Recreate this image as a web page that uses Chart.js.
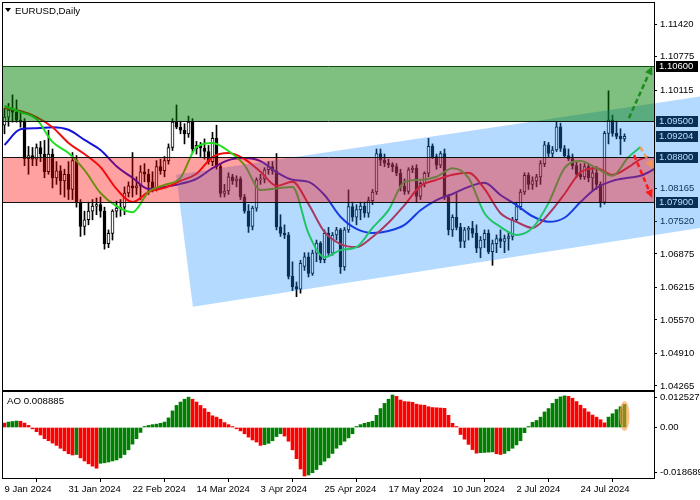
<!DOCTYPE html>
<html>
<head>
<meta charset="utf-8">
<title>EURUSD Daily</title>
<script src="https://cdn.jsdelivr.net/npm/chart.js@4.4.1/dist/chart.umd.min.js"></script>
<style>
  html, body { margin: 0; padding: 0; background: #fff; }
  #wrap { position: relative; width: 700px; height: 500px; overflow: hidden; }
  #priceChart { position: absolute; left: 0; top: 0; }
  #aoChart { position: absolute; left: 0; top: 391px; }
</style>
</head>
<body>
<div id="wrap">
  <canvas id="priceChart" width="700" height="391"></canvas>
  <canvas id="aoChart" width="700" height="109"></canvas>
</div>
<script>
// Datos del gráfico (velas diarias EURUSD)
const dateLabels = ["9 Jan 2024", "31 Jan 2024", "22 Feb 2024", "14 Mar 2024", "3 Apr 2024",
    "25 Apr 2024", "17 May 2024", "10 Jun 2024", "2 Jul 2024", "24 Jul 2024"];
const labelBars = [0, 16, 32, 48, 64, 80, 96, 112, 128, 144];

const openPrices = [
    1.0942,1.0958,1.0972,1.0968,1.0952,1.0948,1.0876,1.0882,1.0875,1.0898,
    1.0885,1.0850,1.0885,1.0838,1.0852,1.0832,1.0845,1.0815,1.0872,1.0790,
    1.0742,1.0755,1.0772,1.0782,1.0785,1.0772,1.0708,1.0728,1.0772,1.0778,
    1.0780,1.0808,1.0822,1.0818,1.0822,1.0850,1.0845,1.0830,1.0817,1.0860,
    1.0852,1.0872,1.0898,1.0948,1.0938,1.0932,1.0925,1.0948,1.0895,1.0902,
    1.0897,1.0890,1.0870,1.0916,1.0860,1.0807,1.0812,1.0840,1.0832,1.0836,
    1.0800,1.0772,1.0742,1.0778,1.0834,1.0836,1.0854,1.0860,1.0852,1.0741,
    1.0728,1.0725,1.0643,1.0623,1.0618,1.0663,1.0682,1.0649,1.0689,1.0709,
    1.0676,1.0728,1.0689,1.0725,1.0735,1.0662,1.0735,1.0781,1.0760,1.0775,
    1.0782,1.0768,1.0793,1.0810,1.0886,1.0873,1.0867,1.0864,1.0860,1.0847,
    1.0821,1.0811,1.0854,1.0857,1.0801,1.0827,1.0847,1.0900,1.0880,1.0863,
    1.0886,1.0801,1.0735,1.0760,1.0740,1.0712,1.0735,1.0738,1.0728,1.0699,
    1.0715,1.0728,1.0692,1.0708,1.0718,1.0712,1.0718,1.0722,1.0755,1.0781,
    1.0810,1.0843,1.0825,1.0832,1.0840,1.0866,1.0903,1.0886,1.0893,1.0939,
    1.0896,1.0882,1.0876,1.0862,1.0845,1.0840,1.0860,1.0838,1.0848,1.0825,
    1.0790,1.0926,1.0952,1.0926,1.0920,1.0915
];
const highPrices = [
    1.0975,1.0985,1.1002,1.0992,1.0968,1.0955,1.0900,1.0898,1.0905,1.0910,
    1.0912,1.0932,1.0895,1.0870,1.0862,1.0855,1.0870,1.0888,1.0882,1.0795,
    1.0772,1.0790,1.0795,1.0798,1.0800,1.0780,1.0735,1.0775,1.0792,1.0795,
    1.0820,1.0830,1.0888,1.0840,1.0862,1.0866,1.0855,1.0850,1.0872,1.0875,
    1.0880,1.0905,1.0955,1.0982,1.0950,1.0945,1.0960,1.0955,1.0910,1.0908,
    1.0915,1.0902,1.0928,1.0942,1.0866,1.0825,1.0848,1.0845,1.0842,1.0840,
    1.0805,1.0785,1.0782,1.0838,1.0845,1.0858,1.0870,1.0870,1.0886,1.0765,
    1.0745,1.0730,1.0672,1.0632,1.0675,1.0690,1.0690,1.0695,1.0715,1.0712,
    1.0735,1.0740,1.0730,1.0740,1.0738,1.0740,1.0814,1.0790,1.0785,1.0790,
    1.0790,1.0800,1.0815,1.0895,1.0895,1.0885,1.0875,1.0868,1.0866,1.0855,
    1.0836,1.0858,1.0862,1.0864,1.0830,1.0850,1.0916,1.0905,1.0885,1.0890,
    1.0895,1.0805,1.0765,1.0807,1.0748,1.0740,1.0742,1.0752,1.0745,1.0722,
    1.0735,1.0735,1.0715,1.0725,1.0735,1.0725,1.0730,1.0760,1.0790,1.0815,
    1.0848,1.0848,1.0840,1.0845,1.0872,1.0910,1.0908,1.0900,1.0949,1.0946,
    1.0902,1.0895,1.0885,1.0870,1.0866,1.0866,1.0865,1.0858,1.0860,1.0830,
    1.0930,1.1010,1.0962,1.0950,1.0935,1.0925
];
const lowPrices = [
    1.0925,1.0940,1.0948,1.0948,1.0938,1.0862,1.0845,1.0862,1.0862,1.0870,
    1.0838,1.0845,1.0818,1.0825,1.0805,1.0800,1.0795,1.0795,1.0780,1.0722,
    1.0725,1.0745,1.0755,1.0765,1.0760,1.0697,1.0700,1.0715,1.0760,1.0762,
    1.0765,1.0800,1.0800,1.0805,1.0795,1.0830,1.0805,1.0810,1.0812,1.0845,
    1.0840,1.0865,1.0892,1.0935,1.0925,1.0905,1.0918,1.0888,1.0885,1.0880,
    1.0875,1.0865,1.0862,1.0855,1.0800,1.0800,1.0805,1.0825,1.0820,1.0795,
    1.0768,1.0730,1.0735,1.0772,1.0825,1.0828,1.0845,1.0845,1.0735,1.0722,
    1.0718,1.0638,1.0615,1.0603,1.0610,1.0655,1.0642,1.0645,1.0672,1.0670,
    1.0670,1.0682,1.0685,1.0715,1.0649,1.0655,1.0730,1.0752,1.0745,1.0755,
    1.0760,1.0760,1.0785,1.0805,1.0862,1.0860,1.0858,1.0850,1.0842,1.0812,
    1.0805,1.0806,1.0848,1.0790,1.0795,1.0820,1.0840,1.0876,1.0855,1.0858,
    1.0795,1.0725,1.0722,1.0735,1.0700,1.0700,1.0715,1.0720,1.0690,1.0680,
    1.0700,1.0688,1.0665,1.0690,1.0700,1.0690,1.0695,1.0715,1.0750,1.0775,
    1.0805,1.0815,1.0815,1.0820,1.0825,1.0860,1.0880,1.0878,1.0890,1.0890,
    1.0878,1.0872,1.0855,1.0838,1.0835,1.0835,1.0830,1.0812,1.0815,1.0780,
    1.0786,1.0905,1.0920,1.0915,1.0884,1.0910
];
const closePrices = [
    1.0958,1.0972,1.0968,1.0952,1.0948,1.0876,1.0882,1.0875,1.0898,1.0885,
    1.0850,1.0885,1.0838,1.0852,1.0832,1.0845,1.0815,1.0872,1.0790,1.0742,
    1.0755,1.0772,1.0782,1.0785,1.0772,1.0708,1.0728,1.0772,1.0778,1.0780,
    1.0808,1.0822,1.0818,1.0822,1.0850,1.0845,1.0830,1.0817,1.0860,1.0852,
    1.0872,1.0898,1.0948,1.0938,1.0932,1.0925,1.0948,1.0895,1.0902,1.0897,
    1.0890,1.0870,1.0916,1.0860,1.0807,1.0812,1.0840,1.0832,1.0836,1.0800,
    1.0772,1.0742,1.0778,1.0834,1.0836,1.0854,1.0860,1.0852,1.0741,1.0728,
    1.0725,1.0643,1.0623,1.0618,1.0669,1.0682,1.0649,1.0689,1.0709,1.0676,
    1.0728,1.0689,1.0725,1.0735,1.0662,1.0735,1.0781,1.0760,1.0775,1.0782,
    1.0768,1.0793,1.0810,1.0886,1.0873,1.0867,1.0864,1.0860,1.0847,1.0821,
    1.0811,1.0854,1.0857,1.0801,1.0827,1.0847,1.0900,1.0880,1.0863,1.0886,
    1.0801,1.0735,1.0760,1.0740,1.0712,1.0735,1.0738,1.0728,1.0699,1.0715,
    1.0728,1.0692,1.0708,1.0718,1.0712,1.0718,1.0722,1.0755,1.0781,1.0810,
    1.0843,1.0825,1.0832,1.0840,1.0866,1.0903,1.0886,1.0893,1.0939,1.0896,
    1.0882,1.0876,1.0862,1.0845,1.0840,1.0860,1.0838,1.0848,1.0825,1.0790,
    1.0926,1.0952,1.0926,1.0920,1.0915,1.0920
];

const sampleBars = [0,4,8,12,16,20,24,28,32,36,40,44,48,52,56,60,64,68,72,76,
    80,84,88,92,96,100,104,108,112,116,120,124,128,132,136,140,144,148,152,156,159,161,164];
const jawValues = [
    1.0903,1.0934,1.0936,1.0938,1.0933,1.0913,1.0893,1.0861,1.0838,1.0816,
    1.0820,1.0826,1.0836,1.0857,1.0873,1.0877,1.0871,1.0849,1.0834,1.0830,
    1.0804,1.0761,1.0737,1.0729,1.0733,1.0745,1.0774,1.0794,1.0806,1.0820,
    1.0828,1.0804,1.0784,1.0762,1.0751,1.0759,1.0790,1.0818,1.0832,1.0838,
    1.0842,1.0849,1.0863
];
const teethValues = [
    1.0976,1.0970,1.0958,1.0938,1.0907,1.0885,1.0859,1.0816,1.0790,1.0810,
    1.0818,1.0832,1.0846,1.0879,1.0887,1.0875,1.0850,1.0822,1.0830,1.0786,
    1.0731,1.0707,1.0701,1.0721,1.0749,1.0784,1.0822,1.0834,1.0844,1.0848,
    1.0816,1.0768,1.0751,1.0739,1.0766,1.0806,1.0849,1.0857,1.0844,1.0859,
    1.0875,1.0879,null
];
const lipsValues = [
    1.0980,1.0968,1.0954,1.0909,1.0887,1.0853,1.0808,1.0782,1.0770,1.0810,
    1.0824,1.0838,1.0899,1.0907,1.0891,1.0863,1.0814,1.0817,1.0820,1.0728,
    1.0681,1.0695,1.0701,1.0739,1.0774,1.0830,1.0834,1.0840,1.0857,1.0838,
    1.0768,1.0741,1.0725,1.0739,1.0788,1.0857,1.0871,1.0857,1.0842,1.0879,
    1.0899,null,null
];

// Awesome Oscillator
const aoValues = [
    0.0017,0.0021,0.0023,0.0025,0.0024,0.0017,0.0008,-0.0005,-0.0016,-0.0029,
    -0.0043,-0.0051,-0.0060,-0.0069,-0.0080,-0.0090,-0.0101,-0.0106,-0.0104,-0.0117,
    -0.0129,-0.0140,-0.0149,-0.0157,-0.0138,-0.0136,-0.0133,-0.0129,-0.0125,-0.0117,
    -0.0104,-0.0086,-0.0064,-0.0043,-0.0019,0.0003,0.0008,0.0011,0.0013,0.0016,
    0.0021,0.0037,0.0064,0.0085,0.0098,0.0109,0.0117,0.0109,0.0098,0.0085,
    0.0073,0.0059,0.0045,0.0040,0.0032,0.0019,0.0011,0.0001,-0.0005,-0.0013,
    -0.0024,-0.0037,-0.0048,-0.0056,-0.0069,-0.0066,-0.0061,-0.0051,-0.0035,-0.0024,
    -0.0033,-0.0053,-0.0086,-0.0120,-0.0160,-0.018689,-0.0183,-0.0174,-0.0162,-0.0144,
    -0.0130,-0.0117,-0.0100,-0.0080,-0.0067,-0.0053,-0.0040,-0.0024,0.0003,0.0011,
    0.0016,0.0020,0.0024,0.0047,0.0073,0.0093,0.0109,0.012527,0.0120,0.0106,
    0.0100,0.0099,0.0097,0.0090,0.0087,0.0086,0.0080,0.0077,0.0076,0.0075,
    0.0074,0.0047,0.0016,0.0001,-0.0027,-0.0045,-0.0065,-0.0085,-0.0099,-0.0097,
    -0.0096,-0.0095,-0.0094,-0.0101,-0.0104,-0.0100,-0.0090,-0.0080,-0.0067,-0.0051,
    -0.0020,0.0001,0.0020,0.0027,0.0040,0.0060,0.0073,0.0093,0.0109,0.0118,
    0.0122,0.0120,0.0113,0.0100,0.0086,0.0073,0.0060,0.0048,0.0040,0.0030,
    0.0018,0.0040,0.0053,0.0069,0.0080,0.008885
];

const priceTicks = [1.11420, 1.10775, 1.10115, 1.08165, 1.07520, 1.06875, 1.06215, 1.05570, 1.04910, 1.04265];
const markedPrices = [1.10600, 1.09500, 1.09204, 1.08800, 1.07900];
const aoTickValues = [0.0115, 0, -0.0174];
const aoTickLabels = ["0.012527", "0.00", "-0.018689"];

// Zonas: verde (1.0950-1.1060) y roja (1.0790-1.0880)
const zoneTops = [1.1060, 1.0880];
const zoneBottoms = [1.0950, 1.0790];
const zoneColors = ["rgba(0,128,0,0.5)", "rgba(255,0,0,0.37)"];

// Canal azul (barra, precio)
const channelBars = [42.9, 173.9, 173.9, 47.1];
const channelPrices = [1.0844, 1.0999, 1.0739, 1.0583];

// Flechas de escenario
const arrowStartBars = [156.1, 157.4, 158.9];
const arrowStartPrices = [1.0956, 1.0883, 1.0899];
const arrowEndBars = [161.9, 161.9, 162.1];
const arrowEndPrices = [1.1058, 1.0798, 1.0857];
const arrowColors = ["#1f8a1f", "#ff1a1a", "rgba(250,150,70,0.85)"];

const FONT = "'Liberation Sans', Arial, sans-serif";
const BAR_MIN = -0.375;
const BAR_MAX = 162.375;

Chart.defaults.font.family = FONT;
Chart.defaults.font.size = 9.5;
Chart.defaults.color = "#000";

function toPoints(bars, values) {
    const pts = [];
    bars.forEach((b, k) => {
        if (values[k] !== null) pts.push({ x: b, y: values[k] });
    });
    return pts;
}

// Quitar el relleno automático que Chart.js añade para las etiquetas
function fixAxis(width, height) {
    return scale => {
        if (width) scale.width = width;
        if (height) scale.height = height;
        scale.paddingTop = 0;
        scale.paddingBottom = 0;
        scale.paddingLeft = 0;
        scale.paddingRight = 0;
    };
}

function drawArrow(ctx, x0, y0, x1, y1, color) {
    const ang = Math.atan2(y1 - y0, x1 - x0);
    const head = 9;
    ctx.strokeStyle = color;
    ctx.fillStyle = color;
    ctx.lineWidth = 2.5;
    ctx.setLineDash([5, 3]);
    ctx.beginPath();
    ctx.moveTo(x0, y0);
    ctx.lineTo(x1 - head * Math.cos(ang), y1 - head * Math.sin(ang));
    ctx.stroke();
    ctx.setLineDash([]);
    ctx.beginPath();
    ctx.moveTo(x1, y1);
    ctx.lineTo(x1 - head * Math.cos(ang - 0.45), y1 - head * Math.sin(ang - 0.45));
    ctx.lineTo(x1 - head * Math.cos(ang + 0.45), y1 - head * Math.sin(ang + 0.45));
    ctx.closePath();
    ctx.fill();
}

// Objetos dibujados encima (zonas, canal, flechas, marcas de precio)
const overlayPlugin = {
    id: "overlay",
    afterDatasetsDraw(chart) {
        const { ctx, chartArea: area } = chart;
        const xs = chart.scales.x, ys = chart.scales.y;
        ctx.save();

        // marcas de precio en el eje
        ctx.font = "9.5px " + FONT;
        ctx.textBaseline = "middle";
        ctx.textAlign = "left";
        markedPrices.forEach(p => {
            const py = Math.round(ys.getPixelForValue(p));
            ctx.fillStyle = "#000";
            ctx.fillRect(area.right + 2, py - 5, 42, 11);
            ctx.fillStyle = "#fff";
            ctx.fillText(p.toFixed(5), area.right + 5, py + 0.5);
        });

        ctx.beginPath();
        ctx.rect(area.left, area.top, chart.width - area.left, area.bottom - area.top);
        ctx.clip();

        // canal
        ctx.fillStyle = "rgba(30,144,255,0.33)";
        ctx.beginPath();
        channelBars.forEach((b, k) => {
            const px = xs.getPixelForValue(b), py = ys.getPixelForValue(channelPrices[k]);
            if (k === 0) ctx.moveTo(px, py); else ctx.lineTo(px, py);
        });
        ctx.closePath();
        ctx.fill();

        // zonas
        zoneTops.forEach((top, k) => {
            const y0 = Math.round(ys.getPixelForValue(top));
            const y1 = Math.round(ys.getPixelForValue(zoneBottoms[k]));
            ctx.fillStyle = zoneColors[k];
            ctx.fillRect(area.left, y0, area.right - area.left, y1 - y0);
        });
        ctx.lineWidth = 1;
        zoneTops.concat(zoneBottoms).forEach((p, k) => {
            const py = Math.round(ys.getPixelForValue(p)) + 0.5;
            ctx.strokeStyle = k === 0 ? "#0d4d0d" : "#111";
            ctx.beginPath();
            ctx.moveTo(area.left, py);
            ctx.lineTo(area.right, py);
            ctx.stroke();
        });

        // flechas
        arrowStartBars.forEach((b, k) => {
            drawArrow(ctx,
                xs.getPixelForValue(b), ys.getPixelForValue(arrowStartPrices[k]),
                xs.getPixelForValue(arrowEndBars[k]), ys.getPixelForValue(arrowEndPrices[k]),
                arrowColors[k]);
        });
        ctx.restore();
    },
    afterDraw(chart) {
        const { ctx, chartArea: area } = chart;
        ctx.save();
        ctx.strokeStyle = "#000";
        ctx.lineWidth = 1;
        ctx.strokeRect(area.left - 0.5, area.top - 0.5, area.right - area.left + 1, area.bottom - area.top + 1);
        // título
        ctx.fillStyle = "#000";
        ctx.beginPath();
        ctx.moveTo(5, 8);
        ctx.lineTo(11, 8);
        ctx.lineTo(8, 12);
        ctx.closePath();
        ctx.fill();
        ctx.font = "9.7px " + FONT;
        ctx.textBaseline = "middle";
        ctx.fillText("EURUSD,Daily", 15, 11);
        ctx.restore();
    }
};

const aoPlugin = {
    id: "aoExtras",
    afterDatasetsDraw(chart) {
        const { ctx } = chart;
        const xs = chart.scales.x, ys = chart.scales.y;
        const last = aoValues.length - 1;
        const cx = xs.getPixelForValue(last);
        const top = ys.getPixelForValue(aoValues[last]);
        const zero = ys.getPixelForValue(0);
        ctx.save();
        ctx.fillStyle = "rgba(255,150,50,0.55)";
        ctx.strokeStyle = "rgba(255,170,100,0.7)";
        ctx.beginPath();
        ctx.ellipse(cx, (top + zero) / 2, 4.5, (zero - top) / 2 + 3, 0, 0, Math.PI * 2);
        ctx.fill();
        ctx.stroke();
        ctx.restore();
    },
    afterDraw(chart) {
        const { ctx, chartArea: area } = chart;
        ctx.save();
        ctx.strokeStyle = "#000";
        ctx.lineWidth = 1;
        ctx.strokeRect(area.left - 0.5, area.top - 0.5, area.right - area.left + 1, area.bottom - area.top + 1);
        ctx.fillStyle = "#000";
        ctx.font = "9.7px " + FONT;
        ctx.textBaseline = "middle";
        ctx.fillText("AO 0.008885", 7, 10);
        ctx.restore();
    }
};

const bodyColors = closePrices.map((c, i) => (c >= openPrices[i] ? "#ffffff" : "#000000"));

new Chart(document.getElementById("priceChart"), {
    type: "bar",
    data: {
        datasets: [
            {
                type: "line",
                label: "Lips",
                data: toPoints(sampleBars, lipsValues),
                borderColor: "#1ee01e",
                borderWidth: 2,
                pointRadius: 0,
                cubicInterpolationMode: "monotone",
                order: 0
            },
            {
                type: "line",
                label: "Teeth",
                data: toPoints(sampleBars, teethValues),
                borderColor: "#ee1111",
                borderWidth: 2,
                pointRadius: 0,
                cubicInterpolationMode: "monotone",
                order: 0
            },
            {
                type: "line",
                label: "Jaw",
                data: toPoints(sampleBars, jawValues),
                borderColor: "#1414d8",
                borderWidth: 2,
                pointRadius: 0,
                cubicInterpolationMode: "monotone",
                order: 0
            },
            {
                label: "Body",
                data: openPrices.map((o, i) => ({ x: i, y: [o, closePrices[i]] })),
                backgroundColor: bodyColors,
                borderColor: "#000",
                borderWidth: 1,
                borderSkipped: false,
                barThickness: 3,
                minBarLength: 1,
                grouped: false,
                order: 1
            },
            {
                label: "Wick",
                data: lowPrices.map((l, i) => ({ x: i, y: [l, highPrices[i]] })),
                backgroundColor: "#000",
                borderWidth: 0,
                barThickness: 1,
                grouped: false,
                order: 2
            }
        ]
    },
    options: {
        responsive: false,
        animation: false,
        events: [],
        layout: { padding: { left: 3, top: 3, right: 0, bottom: 1 } },
        plugins: { legend: { display: false }, tooltip: { enabled: false } },
        scales: {
            x: {
                type: "linear",
                min: BAR_MIN,
                max: BAR_MAX,
                offset: false,
                display: false
            },
            y: {
                type: "linear",
                position: "right",
                min: 1.04185,
                max: 1.11836,
                afterFit: fixAxis(46, 0),
                afterBuildTicks: scale => { scale.ticks = priceTicks.map(v => ({ value: v })); },
                ticks: {
                    autoSkip: false,
                    padding: 3,
                    callback: v => Number(v).toFixed(5)
                },
                grid: { drawOnChartArea: false, tickLength: 3, color: "#000" },
                border: { display: true, color: "#000" }
            }
        }
    },
    plugins: [overlayPlugin]
});

new Chart(document.getElementById("aoChart"), {
    type: "bar",
    data: {
        datasets: [{
            label: "AO",
            data: aoValues.map((v, i) => ({ x: i, y: v })),
            backgroundColor: aoValues.map((v, i) => (i > 0 && v > aoValues[i - 1] ? "#008000" : "#ff0000")),
            barThickness: 3,
            minBarLength: 1,
            borderWidth: 0
        }]
    },
    options: {
        responsive: false,
        animation: false,
        events: [],
        layout: { padding: { left: 3, top: 1, right: 0, bottom: 0 } },
        plugins: { legend: { display: false }, tooltip: { enabled: false } },
        scales: {
            x: {
                type: "linear",
                min: BAR_MIN,
                max: BAR_MAX,
                offset: false,
                afterFit: fixAxis(0, 22),
                afterBuildTicks: scale => { scale.ticks = labelBars.map(v => ({ value: v })); },
                ticks: {
                    autoSkip: false,
                    maxRotation: 0,
                    align: "start",
                    padding: 2,
                    callback: (v, idx) => dateLabels[idx]
                },
                grid: { drawOnChartArea: false, tickLength: 4, color: "#000" },
                border: { display: true, color: "#000" }
            },
            y: {
                type: "linear",
                position: "right",
                min: -0.019459,
                max: 0.013682,
                afterFit: fixAxis(46, 0),
                afterBuildTicks: scale => { scale.ticks = aoTickValues.map(v => ({ value: v })); },
                ticks: {
                    autoSkip: false,
                    padding: 3,
                    callback: (v, idx) => aoTickLabels[idx]
                },
                grid: { drawOnChartArea: false, drawTicks: true, tickLength: 3, color: "#000" },
                border: { display: true, color: "#000" }
            }
        }
    },
    plugins: [aoPlugin]
});
</script>
</body>
</html>
